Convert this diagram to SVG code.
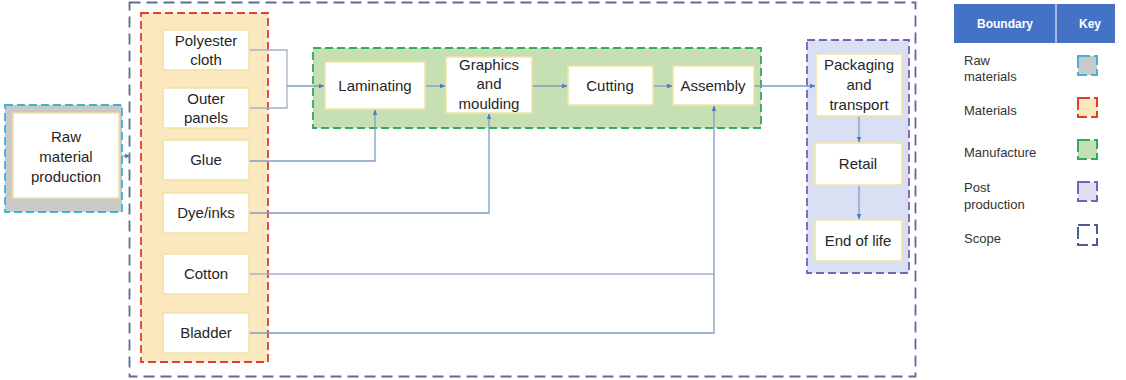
<svg xmlns="http://www.w3.org/2000/svg" width="1126" height="380" viewBox="0 0 1126 380">
  <defs>
    <marker id="arr" viewBox="0 0 10 10" refX="9" refY="5" markerWidth="6" markerHeight="6" markerUnits="userSpaceOnUse" orient="auto">
      <path d="M0,1 L10,5 L0,9 z" fill="#4a7ebb"/>
    </marker>
    <style>
      .node { fill: #ffffff; stroke: #f0e3a2; stroke-width: 1.5; }
      .lbl { font-family: "Liberation Sans", Arial, sans-serif; font-size: 15px; fill: #262626; text-anchor: middle; }
      .leg { font-family: "Liberation Sans", Arial, sans-serif; font-size: 13px; fill: #333333; }
      .hdr { font-family: "Liberation Sans", Arial, sans-serif; font-size: 12px; font-weight: bold; fill: #ffffff; text-anchor: middle; }
      .conn { fill: none; stroke: #a3b3c9; stroke-width: 1.3; }
      .flow { fill: none; stroke: #7f9cc4; stroke-width: 1.3; marker-end: url(#arr); }
      .key { stroke-width: 2; stroke-dasharray: 12,4; }
    </style>
  </defs>
  <rect width="1126" height="380" fill="#ffffff"/>

  <!-- boundaries -->
  <g id="boundaries">
    <rect id="scope" x="129.5" y="2.5" width="786" height="374" fill="none" stroke="#5b6e91" stroke-width="1.8" stroke-dasharray="11,6"/>
    <rect id="raw-boundary" x="5" y="105" width="117" height="107" fill="#c9c9c9" stroke="#3fb3d9" stroke-width="1.8" stroke-dasharray="8,4"/>
    <rect id="materials-boundary" x="141" y="13" width="127" height="349" fill="#fce8bf" stroke="#e03c31" stroke-width="1.8" stroke-dasharray="8,4"/>
    <rect id="manufacture-boundary" x="313" y="48" width="448" height="80" fill="#c6e0b4" stroke="#2eab5f" stroke-width="1.8" stroke-dasharray="8,4"/>
    <rect id="post-boundary" x="807" y="40" width="102" height="233" fill="#d9e0f3" stroke="#7e5fb0" stroke-width="1.8" stroke-dasharray="8,4"/>
  </g>

  <!-- connectors -->
  <g id="connectors">
    <path class="conn" d="M249,50 H287 V108 H249"/>
    <path class="flow" d="M287,86 H324"/>
    <path class="flow" d="M122,156 H130"/>
    <path class="flow" d="M249,161 H375 V110"/>
    <path class="flow" d="M249,213 H489 V114"/>
    <path class="conn" d="M249,274 H714"/>
    <path class="flow" d="M249,333 H714 V106"/>
    <path class="flow" d="M425,86 H445"/>
    <path class="flow" d="M532,86 H567"/>
    <path class="flow" d="M653,86 H672"/>
    <path class="flow" d="M754,86 H815"/>
    <path class="flow" d="M859,116 V142"/>
    <path class="flow" d="M859,185 V219"/>
  </g>

  <!-- raw materials -->
  <g id="raw-material-production">
    <rect class="node" x="13" y="113" width="106" height="85"/>
    <text class="lbl" x="66" y="142">Raw</text>
    <text class="lbl" x="66" y="162">material</text>
    <text class="lbl" x="66" y="182">production</text>
  </g>

  <!-- materials -->
  <g id="polyester-cloth">
    <rect class="node" x="163" y="30" width="86" height="40"/>
    <text class="lbl" x="206" y="46">Polyester</text>
    <text class="lbl" x="206" y="65">cloth</text>
  </g>
  <g id="outer-panels">
    <rect class="node" x="163" y="88" width="86" height="40"/>
    <text class="lbl" x="206" y="104">Outer</text>
    <text class="lbl" x="206" y="123">panels</text>
  </g>
  <g id="glue">
    <rect class="node" x="163" y="140" width="86" height="40"/>
    <text class="lbl" x="206" y="165">Glue</text>
  </g>
  <g id="dye-inks">
    <rect class="node" x="163" y="193" width="86" height="40"/>
    <text class="lbl" x="206" y="218">Dye/inks</text>
  </g>
  <g id="cotton">
    <rect class="node" x="163" y="254" width="86" height="40"/>
    <text class="lbl" x="206" y="279">Cotton</text>
  </g>
  <g id="bladder">
    <rect class="node" x="163" y="313" width="86" height="40"/>
    <text class="lbl" x="206" y="338">Bladder</text>
  </g>

  <!-- manufacture -->
  <g id="laminating">
    <rect class="node" x="325" y="62" width="100" height="47"/>
    <text class="lbl" x="375" y="91">Laminating</text>
  </g>
  <g id="graphics-moulding">
    <rect class="node" x="446" y="57" width="86" height="56"/>
    <text class="lbl" x="489" y="70">Graphics</text>
    <text class="lbl" x="489" y="89">and</text>
    <text class="lbl" x="489" y="109">moulding</text>
  </g>
  <g id="cutting">
    <rect class="node" x="568" y="66" width="85" height="39"/>
    <text class="lbl" x="610" y="91">Cutting</text>
  </g>
  <g id="assembly">
    <rect class="node" x="673" y="66" width="81" height="39"/>
    <text class="lbl" x="713" y="91">Assembly</text>
  </g>

  <!-- post production -->
  <g id="packaging-transport">
    <rect class="node" x="816" y="54" width="86" height="62"/>
    <text class="lbl" x="859" y="70">Packaging</text>
    <text class="lbl" x="859" y="90">and</text>
    <text class="lbl" x="859" y="110">transport</text>
  </g>
  <g id="retail">
    <rect class="node" x="815" y="143" width="87" height="42"/>
    <text class="lbl" x="858" y="169">Retail</text>
  </g>
  <g id="end-of-life">
    <rect class="node" x="815" y="220" width="87" height="41"/>
    <text class="lbl" x="858" y="246">End of life</text>
  </g>

  <!-- legend -->
  <g id="legend">
    <rect x="954" y="4" width="161" height="39" fill="#4472c4"/>
    <line x1="1056" y1="4" x2="1056" y2="43" stroke="#ffffff" stroke-width="1"/>
    <text class="hdr" x="1005" y="28">Boundary</text>
    <text class="hdr" x="1090" y="28">Key</text>

    <text class="leg" x="964" y="65">Raw</text>
    <text class="leg" x="964" y="81">materials</text>
    <rect class="key" x="1078" y="56" width="19" height="19" fill="#c9c9c9" stroke="#3fb3d9"/>

    <text class="leg" x="964" y="115">Materials</text>
    <rect class="key" x="1078" y="98" width="19" height="19" fill="#fce8bf" stroke="#e03c31"/>

    <text class="leg" x="964" y="157">Manufacture</text>
    <rect class="key" x="1078" y="140" width="19" height="19" fill="#c6e0b4" stroke="#2eab5f"/>

    <text class="leg" x="964" y="192">Post</text>
    <text class="leg" x="964" y="209">production</text>
    <rect class="key" x="1078" y="182" width="19" height="19" fill="#d9e0f3" stroke="#7e5fb0"/>

    <text class="leg" x="964" y="243">Scope</text>
    <rect class="key" x="1078" y="225" width="19" height="20" fill="none" stroke="#4a5f8a"/>
  </g>
</svg>
